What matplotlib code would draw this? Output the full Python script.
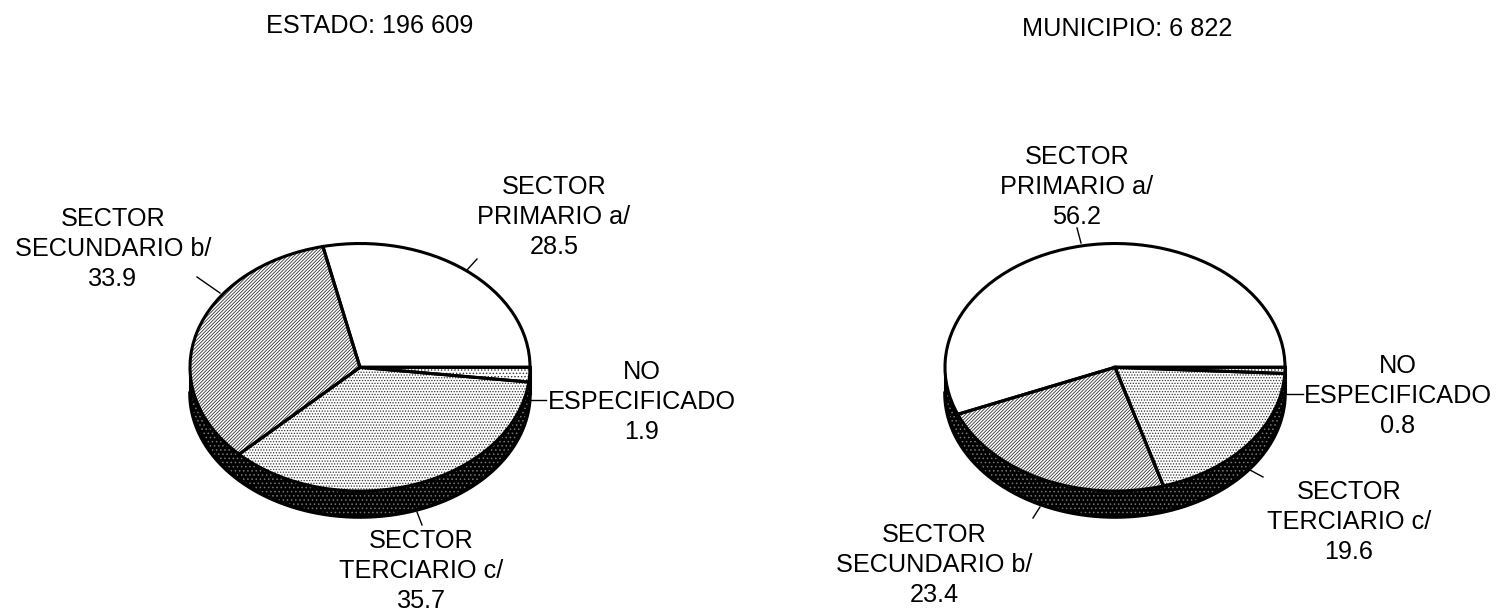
import numpy as np
import matplotlib
matplotlib.use('Agg')
import matplotlib.pyplot as plt

plt.rcParams['font.family'] = ['Liberation Sans', 'DejaVu Sans']
plt.rcParams['hatch.linewidth'] = 0.6

# valors llegits de la imatge
estado = [28.5, 33.9, 35.7, 1.9]
municipio = [56.2, 23.4, 19.6, 0.8]
titol_estado = 'ESTADO: 196 609'
titol_municipio = 'MUNICIPIO: 6 822'
etiquetes = ['SECTOR\nPRIMARIO a/', 'SECTOR\nSECUNDARIO b/', 'SECTOR\nTERCIARIO c/', 'NO\nESPECIFICADO']

W, H = 1505, 612
RX, RY, GRUIX = 170, 124, 26
hatches = [None, '//////////', '......', '.....']

fig = plt.figure(figsize=(W/100, H/100), dpi=100)

# capa en pixels per textos i linies guia
bg = fig.add_axes([0, 0, 1, 1])
bg.set_xlim(0, W)
bg.set_ylim(H, 0)
bg.axis('off')


def pastis(valors, cx, cy):
    left = (cx - RX*1.02)/W
    bottom = 1 - (cy + (RY + GRUIX)*1.02)/H
    ax = fig.add_axes([left, bottom, 2*RX*1.02/W, (2*RY + GRUIX)*1.02/H])
    ax.patch.set_visible(False)

    # paret lateral
    th = np.linspace(np.pi, 2*np.pi, 300)
    ax.fill_between(np.cos(th), np.sin(th), np.sin(th) - GRUIX/RY, facecolor='black',
                    edgecolor='#777777', hatch='....', linewidth=0, zorder=1)
    ax.plot(np.cos(th), np.sin(th) - GRUIX/RY, color='black', lw=2.6, zorder=2)
    ax.plot([-1, -1], [0, -GRUIX/RY], color='black', lw=2.2, zorder=2)
    ax.plot([1, 1], [0, -GRUIX/RY], color='black', lw=2.2, zorder=2)

    # trama i contorn per separat
    falques, _ = ax.pie(valors, startangle=0, counterclock=True, colors=['white']*4,
                        wedgeprops={'edgecolor': '#333333', 'linewidth': 0})
    for f, h in zip(falques, hatches):
        f.set_hatch(h)
        f.set_zorder(3)
    contorn, _ = ax.pie(valors, startangle=0, counterclock=True, colors=['none']*4,
                        wedgeprops={'edgecolor': 'black', 'linewidth': 2.2})
    for f in contorn:
        f.set_zorder(4)
    ax.set_aspect('auto')
    ax.set_xlim(-1.02, 1.02)
    ax.set_ylim(-1 - GRUIX/RY - 0.02*(RY + GRUIX)/RY, 1 + 0.02*(RY + GRUIX)/RY)
    ax.axis('off')


pastis(estado, 360, 367)
pastis(municipio, 1115, 367)


def etiqueta(x, y, nom, valor):
    bg.text(x, y, f'{nom}\n{valor}', ha='center', va='center', fontsize=18.2, linespacing=1.29)


etiqueta(554, 217, etiquetes[0], estado[0])
etiqueta(113, 249, etiquetes[1], estado[1])
etiqueta(421, 571, etiquetes[2], estado[2])
etiqueta(642, 402, etiquetes[3], estado[3])
etiqueta(1077, 187, etiquetes[0], municipio[0])
etiqueta(934, 565, etiquetes[1], municipio[1])
etiqueta(1349, 522, etiquetes[2], municipio[2])
etiqueta(1398, 396, etiquetes[3], municipio[3])

bg.text(369.5, 26, titol_estado, ha='center', va='center', fontsize=18.2)
bg.text(1127, 29, titol_municipio, ha='center', va='center', fontsize=18.2)

# linies guia
guies = [((467, 477), (270, 259)), ((220, 197), (293, 277)), ((531, 546), (400, 400)),
         ((417, 422), (512, 525)), ((1081, 1077), (243, 228)), ((1286, 1303), (394, 394)),
         ((1250, 1263), (470, 477)), ((1040, 1033), (507, 518))]
for xs, ys in guies:
    bg.plot(xs, ys, color='black', lw=1)

fig.savefig('out.png', dpi=100)
